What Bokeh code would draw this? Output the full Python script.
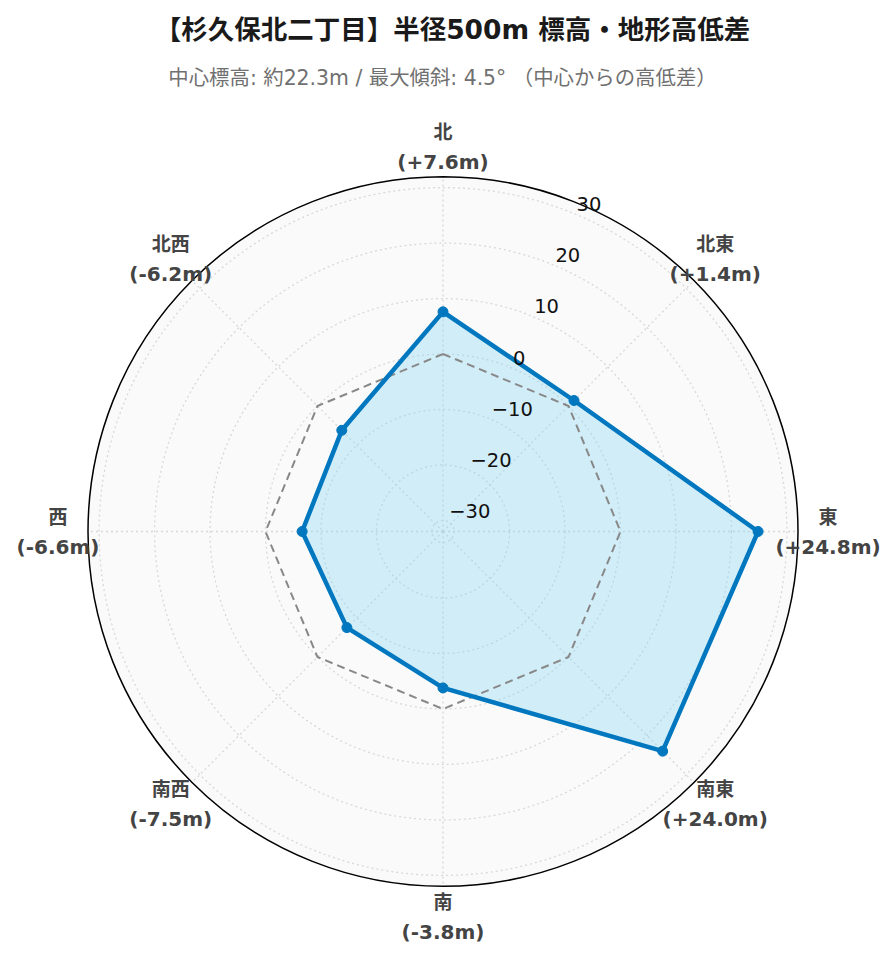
import numpy as np
from bokeh.plotting import figure
from bokeh.models import Range1d
from bokeh.core.properties import value
from bokeh.embed import file_html
from bokeh.resources import INLINE

# ---- data ----
directions = ["北", "北東", "東", "南東", "南", "南西", "西", "北西"]
angles_deg = [90, 45, 0, -45, -90, -135, 180, 135]
diffs = [7.6, 1.4, 24.8, 24.0, -3.8, -7.5, -6.6, -6.2]
zero_ref = [0, 0, 0, 0, 0, 0, 0, 0]
radial_ticks = [-30, -20, -10, 0, 10, 20, 30]
radial_tick_labels = ["−30", "−20", "−10", "0", "10", "20", "30"]
r_min, r_max = -32, 32
title = "【杉久保北二丁目】半径500m 標高・地形高低差"
subtitle = "中心標高: 約22.3m / 最大傾斜: 4.5° （中心からの高低差）"

# ---- layout ----
W, H = 886, 952
R_PX = 355.0
S = R_PX / (r_max - r_min)      # px per unit
cx, cy = 442.5, 531.0           # polar centre in canvas px (from top-left)

FONT = "'DejaVu Sans', 'Noto Sans CJK JP', sans-serif"

p = figure(width=W, height=H, output_backend="svg", toolbar_location=None,
           x_range=Range1d(-cx / S, (W - cx) / S),
           y_range=Range1d(-(H - cy) / S, cy / S),
           x_axis_location=None, y_axis_location=None,
           min_border=0, min_border_left=0, min_border_right=0,
           min_border_top=0, min_border_bottom=0)
p.grid.visible = False
p.outline_line_color = None
p.background_fill_color = "white"
p.border_fill_color = "white"


def px(X, Y):
    """canvas pixel -> data coords (for layout texts)"""
    return (X - cx) / S, (cy - Y) / S


theta = np.radians(angles_deg)
R_OUT = r_max - r_min

# background disc
p.circle(x=[0], y=[0], radius=R_OUT, fill_color="#fafafa", line_color=None)

# grid circles
for t in radial_ticks:
    p.circle(x=[0], y=[0], radius=t - r_min, fill_color=None,
             line_color="#d8d8d8", line_width=1.3, line_dash="2 3")
# spokes
p.segment(x0=np.zeros(8), y0=np.zeros(8), x1=R_OUT * np.cos(theta), y1=R_OUT * np.sin(theta),
          line_color="#d8d8d8", line_width=1.3, line_dash="2 3")

# data polygon
r = np.array(diffs) - r_min
xs = r * np.cos(theta)
ys = r * np.sin(theta)
p.patch(list(xs), list(ys), fill_color=(123, 210, 247), fill_alpha=0.32, line_color=None)

# zero reference
r0 = np.array(zero_ref) - r_min
x0 = list(r0 * np.cos(theta)) + [r0[0] * np.cos(theta[0])]
y0 = list(r0 * np.sin(theta)) + [r0[0] * np.sin(theta[0])]
p.line(x0, y0, line_color="#888888", line_width=2, line_dash="8 5")

p.line(list(xs) + [xs[0]], list(ys) + [ys[0]], line_color="#0077be", line_width=4.5,
       line_join="round")
p.scatter(xs, ys, size=10, fill_color="#0077be", line_color="#0077be")

# outer circle
p.circle(x=[0], y=[0], radius=R_OUT, fill_color=None, line_color="black", line_width=1.5)

# radial tick labels along 67.5 deg
ta = np.radians(67.5)
rt = np.array(radial_ticks) - r_min
p.text(x=rt * np.cos(ta), y=rt * np.sin(ta), text=radial_tick_labels,
       text_align="left", text_baseline="middle", x_offset=2, y_offset=-10,
       text_font=value(FONT), text_font_size="19.5px", text_color="#111111")

# angular labels
rl = R_OUT + 30 / S
lab_vals = [f"({v:+.1f}m)" for v in diffs]
p.text(x=rl * np.cos(theta), y=rl * np.sin(theta), text=directions,
       text_align="center", text_baseline="middle", y_offset=-15,
       text_font=value(FONT), text_font_size="19px", text_font_style="bold",
       text_color="#444444")
p.text(x=rl * np.cos(theta), y=rl * np.sin(theta), text=lab_vals,
       text_align="center", text_baseline="middle", y_offset=15,
       text_font=value(FONT), text_font_size="20px", text_font_style="bold",
       text_color="#444444")

# titles
tx, ty = px(452, 28.5)
p.text(x=[tx], y=[ty], text=[title], text_align="center", text_baseline="middle",
       text_font=value(FONT), text_font_size="26.5px", text_font_style="bold",
       text_color="#1a1a1a")
sx, sy = px(442, 77)
p.text(x=[sx], y=[sy], text=[subtitle], text_align="center", text_baseline="middle",
       text_font=value(FONT), text_font_size="20.4px", text_color="#707070")

open("out.html", "w").write(file_html(p, INLINE))
